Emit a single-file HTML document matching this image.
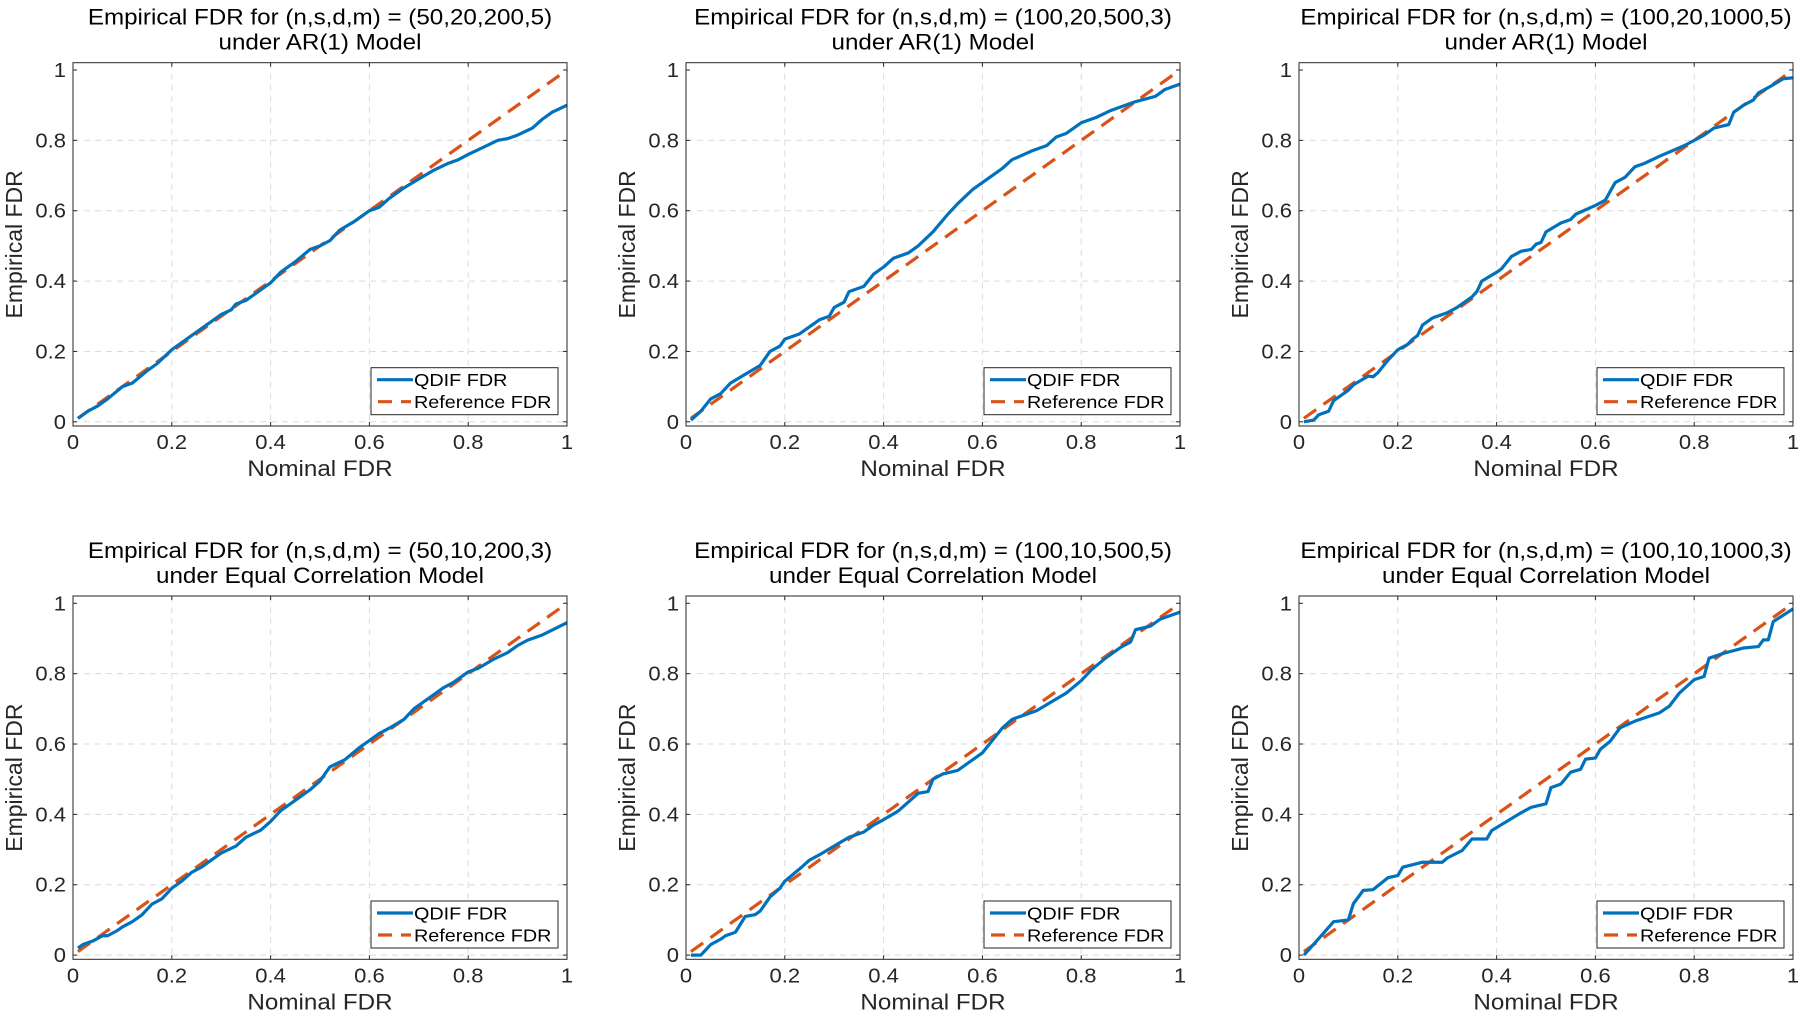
<!DOCTYPE html>
<html><head><meta charset="utf-8"><style>
html,body{margin:0;padding:0;background:#fff;}
svg{display:block;font-family:"Liberation Sans",Arial,sans-serif;}
</style></head><body>
<svg id="fig" width="1800" height="1016" viewBox="0 0 1800 1016" xmlns="http://www.w3.org/2000/svg"></svg>
<script>
const titles1 = ["Empirical FDR for (n,s,d,m) = (50,20,200,5)","Empirical FDR for (n,s,d,m) = (100,20,500,3)","Empirical FDR for (n,s,d,m) = (100,20,1000,5)","Empirical FDR for (n,s,d,m) = (50,10,200,3)","Empirical FDR for (n,s,d,m) = (100,10,500,5)","Empirical FDR for (n,s,d,m) = (100,10,1000,3)"];
const titles2 = ["under  AR(1) Model","under AR(1) Model","under AR(1) Model","under Equal Correlation Model","under Equal Correlation Model","under Equal Correlation Model"];
const tickVals = [0,0.2,0.4,0.6,0.8,1];
const tickLabels = ["0","0.2","0.4","0.6","0.8","1"];
const refX = [0.01,1.0];
const refY = [0.01,1.0];
const p1x = [0.01,0.03,0.05,0.07,0.1,0.12,0.15,0.17,0.2,0.22,0.25,0.28,0.3,0.32,0.33,0.35,0.38,0.4,0.42,0.45,0.48,0.5,0.52,0.54,0.57,0.6,0.62,0.64,0.67,0.7,0.73,0.76,0.78,0.8,0.83,0.86,0.88,0.9,0.93,0.95,0.97,1.0];
const p1y = [0.01,0.03,0.045,0.065,0.1,0.11,0.145,0.165,0.205,0.225,0.255,0.285,0.305,0.318,0.335,0.345,0.375,0.395,0.425,0.455,0.49,0.5,0.515,0.545,0.57,0.6,0.61,0.635,0.665,0.69,0.715,0.735,0.745,0.76,0.78,0.8,0.805,0.815,0.835,0.86,0.88,0.9];
const p2x = [0.01,0.03,0.05,0.07,0.09,0.12,0.15,0.17,0.19,0.2,0.23,0.25,0.27,0.29,0.3,0.32,0.33,0.36,0.38,0.4,0.42,0.45,0.47,0.5,0.53,0.55,0.58,0.6,0.62,0.64,0.66,0.7,0.73,0.75,0.77,0.8,0.83,0.86,0.89,0.91,0.95,0.97,1.0];
const p2y = [0.005,0.03,0.065,0.08,0.11,0.135,0.16,0.2,0.215,0.235,0.25,0.27,0.29,0.3,0.325,0.34,0.37,0.385,0.42,0.44,0.465,0.48,0.5,0.54,0.59,0.62,0.66,0.68,0.7,0.72,0.745,0.77,0.785,0.81,0.82,0.85,0.865,0.885,0.9,0.91,0.925,0.945,0.96];
const p3x = [0.01,0.03,0.04,0.06,0.07,0.1,0.11,0.14,0.15,0.16,0.18,0.2,0.22,0.23,0.24,0.25,0.27,0.3,0.32,0.35,0.36,0.37,0.4,0.41,0.43,0.45,0.47,0.48,0.49,0.5,0.53,0.55,0.56,0.6,0.62,0.64,0.66,0.68,0.7,0.73,0.78,0.8,0.82,0.84,0.87,0.88,0.9,0.92,0.93,0.95,0.98,1.0];
const p3y = [0.0,0.005,0.02,0.03,0.06,0.09,0.105,0.13,0.128,0.14,0.175,0.205,0.22,0.235,0.245,0.275,0.295,0.31,0.325,0.355,0.37,0.4,0.425,0.435,0.47,0.485,0.49,0.505,0.51,0.54,0.565,0.575,0.59,0.615,0.63,0.68,0.695,0.725,0.735,0.755,0.785,0.8,0.815,0.835,0.845,0.88,0.9,0.915,0.935,0.95,0.975,0.978];
const p4x = [0.01,0.02,0.04,0.06,0.07,0.09,0.1,0.12,0.14,0.16,0.18,0.2,0.22,0.24,0.26,0.28,0.3,0.33,0.35,0.38,0.4,0.42,0.45,0.48,0.5,0.52,0.55,0.58,0.6,0.62,0.64,0.67,0.69,0.72,0.75,0.77,0.8,0.82,0.85,0.88,0.9,0.92,0.95,1.0];
const p4y = [0.02,0.03,0.04,0.055,0.055,0.07,0.08,0.095,0.115,0.145,0.16,0.19,0.21,0.235,0.25,0.27,0.29,0.31,0.335,0.355,0.38,0.41,0.44,0.47,0.495,0.535,0.555,0.59,0.61,0.63,0.645,0.67,0.7,0.73,0.76,0.775,0.805,0.815,0.84,0.86,0.88,0.895,0.91,0.945];
const p5x = [0.01,0.03,0.05,0.07,0.08,0.1,0.12,0.14,0.15,0.17,0.19,0.2,0.23,0.25,0.27,0.3,0.33,0.36,0.38,0.4,0.43,0.45,0.47,0.49,0.5,0.52,0.55,0.57,0.6,0.62,0.64,0.66,0.68,0.71,0.74,0.77,0.8,0.82,0.85,0.88,0.9,0.91,0.94,0.96,1.0];
const p5y = [0.0,0.0,0.03,0.045,0.055,0.065,0.11,0.115,0.125,0.165,0.19,0.21,0.245,0.27,0.285,0.31,0.335,0.35,0.37,0.385,0.41,0.435,0.46,0.465,0.5,0.515,0.525,0.545,0.575,0.61,0.645,0.67,0.68,0.695,0.72,0.745,0.78,0.81,0.845,0.875,0.89,0.925,0.935,0.955,0.975];
const p6x = [0.01,0.04,0.07,0.1,0.11,0.13,0.15,0.18,0.2,0.21,0.25,0.29,0.3,0.33,0.35,0.38,0.39,0.45,0.47,0.5,0.51,0.53,0.55,0.57,0.58,0.6,0.61,0.63,0.65,0.68,0.73,0.75,0.77,0.8,0.82,0.83,0.86,0.9,0.93,0.94,0.95,0.96,1.0];
const p6y = [0.0,0.047,0.095,0.1,0.146,0.184,0.186,0.22,0.226,0.25,0.264,0.264,0.276,0.297,0.33,0.33,0.354,0.405,0.42,0.43,0.476,0.486,0.52,0.528,0.557,0.56,0.585,0.608,0.646,0.665,0.689,0.708,0.745,0.783,0.792,0.844,0.858,0.873,0.877,0.896,0.896,0.948,0.984];

const SX=[p1x,p2x,p3x,p4x,p5x,p6x], SY=[p1y,p2y,p3y,p4y,p5y,p6y];
const NS="http://www.w3.org/2000/svg";
const fig=document.getElementById('fig');
const SXF=1.10;
function mk(tag,attrs,parent){const e=document.createElementNS(NS,tag);for(const k in attrs)e.setAttribute(k,attrs[k]);(parent||fig).appendChild(e);return e;}
function txt(x,y,s,size,anchor,fill,parent){
  const t=mk('text',{x:0,y:0,'text-anchor':anchor,'font-size':size,fill:fill,
    transform:`translate(${x} ${y}) scale(${SXF} 1)`},parent);
  t.textContent=s;return t;}
const colL=[73,686,1299], rowT=[62.7,596], W=494, H=363.3;
for(let i=0;i<6;i++){
  const L=colL[i%3], T=rowT[Math.floor(i/3)], B=T+H, R=L+W;
  const y0=B-4.2, y1=T+7.3;
  const xs=v=>L+v*W, ys=v=>y0-v*(y0-y1);
  const g=mk('g',{});
  
  
  mk('rect',{x:L,y:T,width:W,height:H,fill:'#fff'},g);
  tickVals.forEach((v,k)=>{
    if(k>0&&k<5){const gl=mk('line',{x1:xs(v),x2:xs(v),y1:T,y2:B,stroke:'#dcdcdc','stroke-width':1,'stroke-dasharray':'6,5'},g);
      }
    if(k<5){const gl=mk('line',{x1:L,x2:R,y1:ys(v),y2:ys(v),stroke:'#dcdcdc','stroke-width':1,'stroke-dasharray':'6,5'},g);
      }
    mk('line',{x1:xs(v),x2:xs(v),y1:B,y2:B-4,stroke:'#262626','stroke-width':1},g);
    mk('line',{x1:xs(v),x2:xs(v),y1:T,y2:T+4,stroke:'#262626','stroke-width':1},g);
    mk('line',{x1:L,x2:L+4,y1:ys(v),y2:ys(v),stroke:'#262626','stroke-width':1},g);
    mk('line',{x1:R,x2:R-4,y1:ys(v),y2:ys(v),stroke:'#262626','stroke-width':1},g);
    const xt=txt(xs(v),B+23,tickLabels[k],20,'middle','#262626',g);
    
    const yt=txt(L-7,ys(v)+7,tickLabels[k],20,'end','#262626',g);
    
  });
  const ref=mk('polyline',{points:refX.map((x,k)=>xs(x)+','+ys(refY[k])).join(' '),fill:'none',stroke:'#D95319','stroke-width':3.2,'stroke-dasharray':'15,9'},g);
  
  const q=mk('polyline',{points:SX[i].map((x,k)=>xs(x)+','+ys(SY[i][k])).join(' '),fill:'none',stroke:'#0072BD','stroke-width':3.2,'stroke-linejoin':'round'},g);
  
  const box=mk('rect',{x:L,y:T,width:W,height:H,fill:'none',stroke:'#262626','stroke-width':1},g);
  
  const t1=txt(L+W/2,T-38,titles1[i],22,'middle','#000',g);
  
  const t2=txt(L+W/2,T-13,titles2[i],22,'middle','#000',g);
  
  const xl=txt(L+W/2,B+50,'Nominal FDR',22,'middle','#262626',g);
  
  const cy=(T+B)/2;
  const yl=mk('text',{x:0,y:0,'text-anchor':'middle','font-size':23,fill:'#262626',transform:`translate(${L-51} ${cy}) rotate(-90)`},g);
  yl.textContent='Empirical FDR';
  
  const lx=L+298, ly=T+305;
  const lg=mk('g',{},g);
  
  mk('rect',{x:lx,y:ly,width:187,height:47,fill:'#fff',stroke:'#262626','stroke-width':1},lg);
  mk('line',{x1:lx+6,x2:lx+42,y1:ly+12,y2:ly+12,stroke:'#0072BD','stroke-width':3.2},lg);
  mk('line',{x1:lx+7,x2:lx+40,y1:ly+34,y2:ly+34,stroke:'#D95319','stroke-width':3.2,'stroke-dasharray':'14,9'},lg);
  const e1=txt(lx+43,ly+18.5,'QDIF FDR',18,'start','#000',lg);
  
  const e2=txt(lx+43,ly+40.5,'Reference FDR',18,'start','#000',lg);
  
}
</script>
</body></html>
